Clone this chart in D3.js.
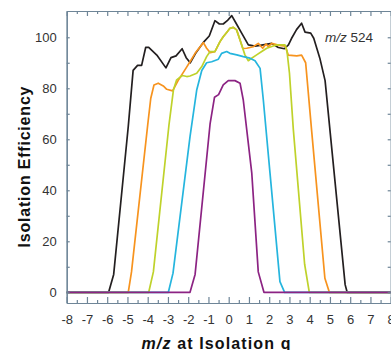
<!DOCTYPE html>
<html>
<head>
<meta charset="utf-8">
<script src="https://cdn.jsdelivr.net/npm/d3@7"></script>
<style>
  html, body { margin: 0; padding: 0; background: #fff; }
  text { font-family: "Liberation Sans", Arial, Helvetica, sans-serif; }
</style>
</head>
<body>
<div id="chart"></div>
<script>
// isolation profiles, offset (m/z) vs efficiency (%)
const w12X = [-8, -5.93, -5.68, -4.96, -4.72, -4.5, -4.3, -4.1, -3.95, -3.55, -3.1, -2.85, -2.6, -2.3, -2.1, -1.9, -1.65, -1.25, -0.96, -0.68, -0.46, -0.27, -0.07, 0.15, 0.35, 0.64, 0.97, 1.3, 1.7, 2.12, 2.45, 2.75, 2.95, 3.1, 3.35, 3.6, 3.77, 4.05, 4.2, 4.5, 4.76, 5.75, 5.85, 8];
const w12Y = [0, 0, 7, 65, 87, 89, 89, 96, 96, 93, 88, 92, 92.7, 95.5, 92, 90, 93.5, 98, 100.5, 106.5, 105.2, 105.2, 106.5, 108.5, 105.7, 101.6, 97, 96.5, 97, 97.6, 96, 95.5, 97, 99.5, 103, 105.5, 102, 101.6, 99.6, 91.8, 83, 3, 0, 0];

const w10X = [-8, -4.96, -4.8, -4.0, -3.85, -3.69, -3.48, -3.23, -3.06, -2.77, -2.5, -2.1, -1.91, -1.66, -1.25, -1.09, -0.92, -0.68, -0.43, -0.27, -0.07, 0.06, 0.23, 0.39, 0.56, 0.7, 0.89, 1.21, 1.46, 1.68, 1.84, 1.96, 2.12, 2.5, 2.8, 2.94, 3.36, 3.6, 3.8, 4.1, 4.75, 4.97, 8];
const w10Y = [0, 0, 8, 65.6, 76, 81.3, 82, 80.9, 79.6, 79, 83, 88, 90.4, 93.7, 97.9, 95.7, 94, 94.4, 98.3, 100.2, 102.2, 103.5, 103.9, 102.9, 98.9, 95.6, 95.7, 96.3, 97.6, 95.7, 97.4, 96.3, 97.6, 96.8, 96.5, 93, 92.7, 93, 90, 63, 5.5, 0, 0];

const w8X = [-8, -3.95, -3.72, -2.95, -2.73, -2.57, -2.29, -2.07, -1.91, -1.58, -1.33, -1.09, -0.92, -0.68, -0.43, -0.27, -0.07, 0.06, 0.23, 0.39, 0.56, 0.8, 0.97, 1.13, 1.38, 1.63, 1.88, 2.2, 2.4, 2.78, 2.88, 3.0, 3.19, 3.75, 3.98, 8];
const w8Y = [0, 0, 8, 65.6, 79.3, 83.3, 85, 84.6, 84.8, 85.9, 88.5, 92.4, 94.4, 94.4, 98.3, 100.2, 102.2, 103.5, 103.9, 102.9, 98.9, 93.1, 90.8, 91.8, 93.1, 94.4, 95.7, 96.6, 97, 97, 94.5, 86, 64, 11, 0, 0];

const w6X = [-8, -2.98, -2.75, -1.91, -1.58, -1.33, -1.09, -0.84, -0.51, -0.35, -0.1, 0.06, 0.4, 0.72, 1.05, 1.3, 1.55, 1.71, 2.04, 2.53, 2.76, 8];
const w6Y = [0, 0, 7.5, 61, 79.3, 87, 90, 90.4, 91.4, 93.7, 94.4, 93.7, 93.1, 92.4, 91.8, 90.8, 87.8, 75.4, 46.7, 4.2, 0, 0];

const w4X = [-8, -1.91, -1.66, -0.92, -0.7, -0.5, -0.27, -0.02, 0.31, 0.56, 0.72, 1.14, 1.46, 1.74, 8];
const w4Y = [0, 0, 7, 66, 76.5, 77.5, 81.3, 83, 83, 82, 75.4, 46.7, 8, 0, 0];

const xTickValues = d3.range(-8, 9, 1);
const yTickValues = [0, 20, 40, 60, 80, 100];

const series = [
    { xs: w12X, ys: w12Y, color: '#231f20' },
    { xs: w10X, ys: w10Y, color: '#f7931e' },
    { xs: w8X, ys: w8Y, color: '#bfd22b' },
    { xs: w6X, ys: w6Y, color: '#25b5de' },
    { xs: w4X, ys: w4Y, color: '#8c2383' }
];

const width = 391, height = 350;
const axisColor = '#6e8597';
const textColor = '#333';

const svg = d3.select('#chart')
    .append('svg')
    .attr('width', width)
    .attr('height', height);

const x = d3.scaleLinear().domain([-8, 8]).range([66.7, 390.7]);
const y = d3.scaleLinear().domain([-4.2, 110.3]).range([303, 11]);

const plotTop = 11, plotBottom = 303, plotLeft = 66.7, plotRight = 390.7;

// curves
const line = d3.line()
    .x(d => x(d[0]))
    .y(d => y(d[1]));

series.forEach(s => {
    svg.append('path')
        .datum(s.xs.map((v, i) => [v, s.ys[i]]))
        .attr('fill', 'none')
        .attr('stroke', s.color)
        .attr('stroke-width', 1.7)
        .attr('stroke-linejoin', 'round')
        .attr('d', line);
});

// axes
function style(g) {
    g.selectAll('path, line').attr('stroke', axisColor).attr('stroke-width', 1.2);
    g.selectAll('text')
        .attr('fill', textColor)
        .attr('font-size', '13px')
        .attr('font-family', '"Liberation Sans", Arial, sans-serif');
}

const halfTicks = d3.range(-7.5, 8, 1);
const yMinor = d3.range(10, 101, 20);
const yAll = d3.range(0, 101, 10);
const plain = d => String(d);   // hyphen, not the unicode minus

// bottom
svg.append('g')
    .attr('transform', `translate(0,${plotBottom})`)
    .call(d3.axisBottom(x).tickValues(xTickValues).tickSize(-6).tickSizeOuter(0).tickPadding(12).tickFormat(plain))
    .call(style);
svg.append('g')
    .attr('transform', `translate(0,${plotBottom})`)
    .call(d3.axisBottom(x).tickValues(halfTicks).tickSize(-3).tickSizeOuter(0).tickFormat(''))
    .call(style);

// top
svg.append('g')
    .attr('transform', `translate(0,${plotTop})`)
    .call(d3.axisTop(x).tickValues(xTickValues).tickSize(-5).tickSizeOuter(0).tickFormat(''))
    .call(style);
svg.append('g')
    .attr('transform', `translate(0,${plotTop})`)
    .call(d3.axisTop(x).tickValues(halfTicks).tickSize(-3).tickSizeOuter(0).tickFormat(''))
    .call(style);

// left
svg.append('g')
    .attr('transform', `translate(${plotLeft},0)`)
    .call(d3.axisLeft(y).tickValues(yTickValues).tickSize(-3).tickSizeOuter(0).tickPadding(10).tickFormat(plain))
    .call(style);
svg.append('g')
    .attr('transform', `translate(${plotLeft},0)`)
    .call(d3.axisLeft(y).tickValues(yMinor).tickSize(-3).tickSizeOuter(0).tickFormat(''))
    .call(style);

// right
svg.append('g')
    .attr('transform', `translate(${plotRight},0)`)
    .call(d3.axisRight(y).tickValues(yAll).tickSize(-3).tickSizeOuter(0).tickFormat(''))
    .call(style);

// axis titles
const xTitle = svg.append('text')
    .attr('x', 216)
    .attr('y', 348.5)
    .attr('text-anchor', 'middle')
    .attr('font-size', '16px')
    .attr('font-weight', 'bold')
    .attr('fill', '#111')
    .attr('textLength', 149)
    .attr('lengthAdjust', 'spacing');
xTitle.append('tspan').attr('font-style', 'italic').text('m/z');
xTitle.append('tspan').text(' at Isolation q');

svg.append('text')
    .attr('transform', 'translate(29.5,167) rotate(-90)')
    .attr('text-anchor', 'middle')
    .attr('font-size', '16px')
    .attr('font-weight', 'bold')
    .attr('fill', '#111')
    .attr('textLength', 161)
    .attr('lengthAdjust', 'spacing')
    .text('Isolation Efficiency');

// annotation
const note = svg.append('text')
    .attr('x', 325)
    .attr('y', 41.7)
    .attr('font-size', '13.5px')
    .attr('fill', textColor);
note.append('tspan').attr('font-style', 'italic').text('m/z');
note.append('tspan').text(' 524');
</script>
</body>
</html>
